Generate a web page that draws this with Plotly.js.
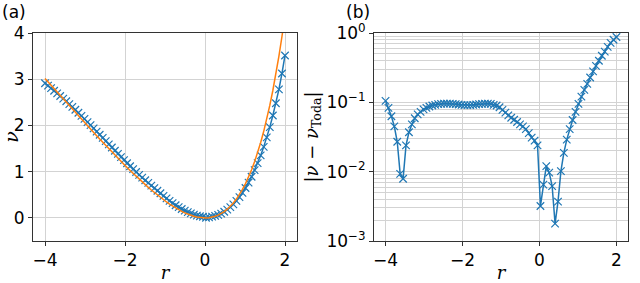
<!DOCTYPE html>
<html><head><meta charset="utf-8">
<script src="https://cdn.plot.ly/plotly-3.0.1.min.js"></script>
<style>html,body{margin:0;padding:0;background:#fff}#chart{width:640px;height:283px}</style>
</head><body><div id="chart"></div>
<script>
// sample positions r
const r = [-4.000,-3.924,-3.848,-3.772,-3.696,-3.620,-3.544,-3.468,-3.392,-3.316,
-3.241,-3.165,-3.089,-3.013,-2.937,-2.861,-2.785,-2.709,-2.633,-2.557,
-2.481,-2.405,-2.329,-2.253,-2.177,-2.101,-2.025,-1.949,-1.873,-1.797,
-1.722,-1.646,-1.570,-1.494,-1.418,-1.342,-1.266,-1.190,-1.114,-1.038,
-0.962,-0.886,-0.810,-0.734,-0.658,-0.582,-0.506,-0.430,-0.354,-0.278,
-0.203,-0.127,-0.051,0.025,0.101,0.177,0.253,0.329,0.405,0.481,
0.557,0.633,0.709,0.785,0.861,0.937,1.013,1.089,1.165,1.241,
1.316,1.392,1.468,1.544,1.620,1.696,1.772,1.848,1.924,2.000];

// Toda reference curve (orange)
const vToda = [3.0183,2.9438,2.8693,2.7950,2.7208,2.6468,2.5729,2.4992,2.4256,2.3523,
2.2801,2.2072,2.1345,2.0621,1.9900,1.9182,1.8467,1.7756,1.7049,1.6345,
1.5647,1.4953,1.4264,1.3581,1.2904,1.2233,1.1570,1.0914,1.0267,0.9628,
0.9007,0.8388,0.7780,0.7185,0.6602,0.6033,0.5480,0.4942,0.4423,0.3922,
0.3441,0.2983,0.2549,0.2140,0.1759,0.1408,0.1089,0.0805,0.0559,0.0353,
0.0193,0.0077,0.0013,0.0003,0.0053,0.0166,0.0349,0.0606,0.0943,0.1367,
0.1884,0.2502,0.3229,0.4074,0.5045,0.6153,0.7408,0.8822,1.0408,1.2180,
1.4128,1.6312,1.8729,2.1396,2.4331,2.7561,3.1106,3.4991,3.9242,4.3891];

// learned potential (blue crosses)
const vModel = [2.9133,2.8608,2.8063,2.7500,2.6938,2.6375,2.5808,2.5232,2.4626,2.4003,
2.3391,2.2742,2.2075,2.1411,2.0730,2.0052,1.9367,1.8676,1.7989,1.7295,
1.6607,1.5913,1.5224,1.4531,1.3844,1.3163,1.2490,1.1824,1.1177,1.0538,
0.9927,0.9318,0.8720,0.8135,0.7562,0.6993,0.6430,0.5862,0.5323,0.4772,
0.4221,0.3693,0.3199,0.2740,0.2319,0.1928,0.1569,0.1255,0.0969,0.0713,
0.0503,0.0357,0.0253,0.0035,0.0118,0.0286,0.0446,0.0668,0.0925,0.1330,
0.1782,0.2315,0.2939,0.3664,0.4489,0.5423,0.6458,0.7612,0.8898,1.0330,
1.1848,1.3522,1.5369,1.7416,1.9631,2.2161,2.4806,2.7791,3.1242,3.5141];

// |v - vToda| (panel b)
const absDiff = [0.105,0.083,0.063,0.045,0.027,0.0093,0.0079,0.024,0.037,0.048,
0.059,0.067,0.073,0.079,0.083,0.087,0.090,0.092,0.094,0.095,
0.096,0.096,0.096,0.095,0.094,0.093,0.092,0.091,0.091,0.091,
0.092,0.093,0.094,0.095,0.096,0.096,0.095,0.092,0.090,0.085,
0.078,0.071,0.065,0.060,0.056,0.052,0.048,0.045,0.041,0.036,
0.031,0.028,0.024,0.0032,0.0065,0.012,0.0097,0.0062,0.00178,0.0037,
0.0102,0.0187,0.029,0.041,0.0556,0.073,0.095,0.121,0.151,0.185,
0.228,0.279,0.336,0.398,0.47,0.54,0.63,0.72,0.80,0.875];

const xTicks = [-4,-2,0,2];
const yTicksA = [0,1,2,3,4];
const logTickVals = [0.001,0.01,0.1,1];
const logTickText = ['10<sup>−3</sup>','10<sup>−2</sup>','10<sup>−1</sup>','10<sup>0</sup>'];

const BLUE = '#1f77b4', ORANGE = '#ff7f0e';
const FONT = 'DejaVu Sans, sans-serif';
const MATH = 'DejaVu Serif, serif';
const grid = '#d3d3d3';

const common = {
  showgrid:true, gridcolor:grid, gridwidth:1,
  showline:true, mirror:true, linecolor:'#333', linewidth:1,
  ticks:'outside', ticklen:4, tickcolor:'#333', tickwidth:1,
  zeroline:false, tickfont:{family:FONT,size:17,color:'#000'}
};

const markerStyle = {symbol:'x-thin-open', size:7.5, color:BLUE, line:{color:BLUE,width:1.2}};

const traces = [
  {x:r, y:vModel, xaxis:'x', yaxis:'y', mode:'lines+markers', line:{color:BLUE,width:1.5}, marker:markerStyle, hoverinfo:'none'},
  {x:r, y:vToda, xaxis:'x', yaxis:'y', mode:'lines', line:{color:ORANGE,width:1.5}, hoverinfo:'none'},
  {x:r, y:absDiff, xaxis:'x2', yaxis:'y2', mode:'lines+markers', line:{color:BLUE,width:1.5}, marker:markerStyle, hoverinfo:'none'}
];

const layout = {
  width:640, height:283,
  margin:{l:33, r:12, t:33, b:42},
  paper_bgcolor:'#fff', plot_bgcolor:'#fff',
  showlegend:false,
  font:{family:FONT, size:17, color:'#000'},
  xaxis:Object.assign({}, common, {domain:[0,0.4437], range:[-4.3,2.3], tickmode:'array', tickvals:xTicks,
    title:{text:'<i>r</i>', font:{family:MATH,size:18}, standoff:8}}),
  yaxis:Object.assign({}, common, {domain:[0,1], range:[-0.5,4], tickmode:'array', tickvals:yTicksA,
    title:{text:'<i>ν</i>', font:{family:MATH,size:19}, standoff:4}}),
  xaxis2:Object.assign({}, common, {domain:[0.5731,1], range:[-4.3,2.3], tickmode:'array', tickvals:xTicks, anchor:'y2',
    title:{text:'<i>r</i>', font:{family:MATH,size:18}, standoff:8}}),
  yaxis2:Object.assign({}, common, {domain:[0,1], type:'log', range:[-3,0], tickmode:'array', tickvals:logTickVals, ticktext:logTickText, anchor:'x2',
    minor:{showgrid:true, gridcolor:grid, dtick:'D1', ticks:''},
    title:{text:'|<i>ν</i> − <i>ν</i><sub>Toda</sub>|', font:{family:MATH,size:18}, standoff:3}}),
  annotations:[
    {text:'(a)', xref:'paper', yref:'paper', x:-0.055, y:1.16, xanchor:'left', yanchor:'top', showarrow:false, font:{family:FONT,size:17}},
    {text:'(b)', xref:'paper', yref:'paper', x:0.523, y:1.16, xanchor:'left', yanchor:'top', showarrow:false, font:{family:FONT,size:17}}
  ]
};

Plotly.newPlot('chart', traces, layout, {staticPlot:true, displayModeBar:false});
</script>
</body></html>
